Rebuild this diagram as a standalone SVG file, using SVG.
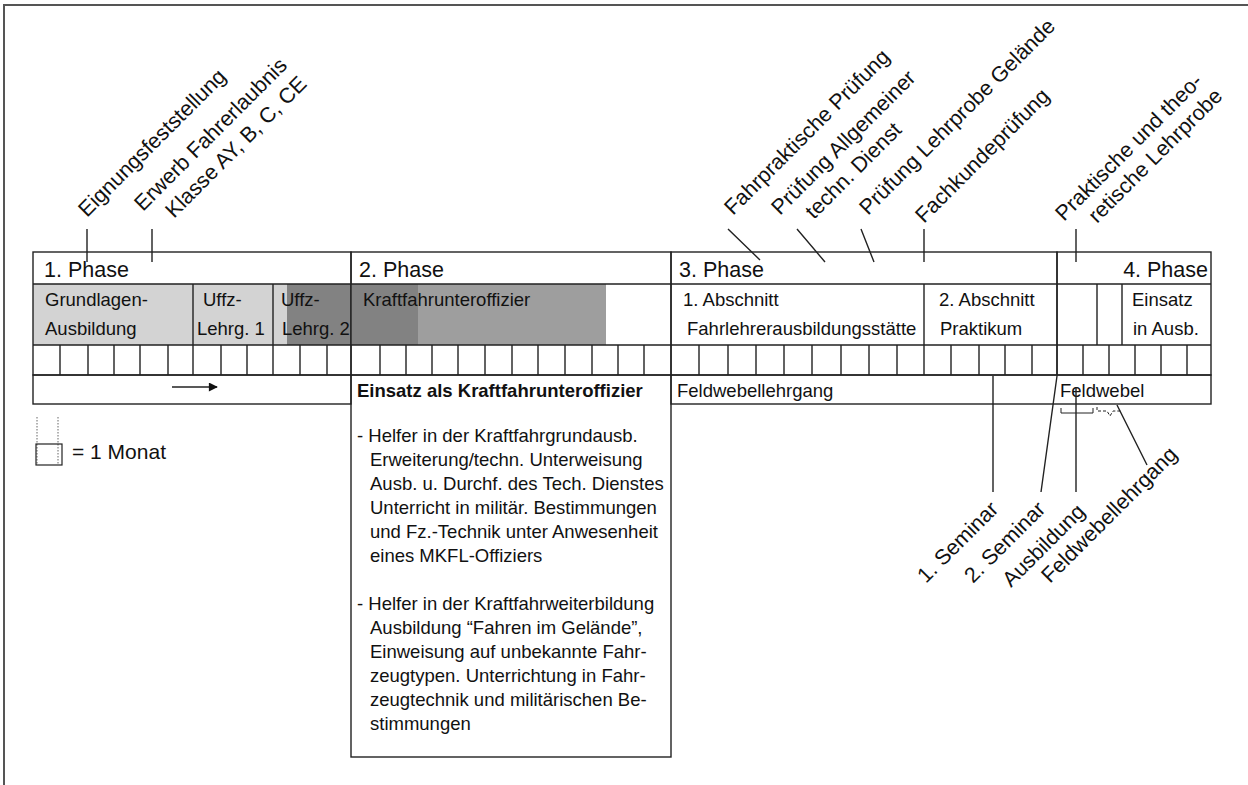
<svg xmlns="http://www.w3.org/2000/svg" width="1248" height="785" viewBox="0 0 1248 785">
<style>
.ln{fill:none;stroke:#222;stroke-width:1.4}
.fr{fill:none;stroke:#555;stroke-width:2}
.dot{fill:none;stroke:#666;stroke-width:1;stroke-dasharray:1.5,1.5}
.t{font-family:"Liberation Sans",Arial,Helvetica,sans-serif;font-size:18.5px;fill:#111}
.ph{font-size:21.5px}
.rl{font-size:21.5px}
.b{font-weight:bold}
.light{fill:#d3d3d3}
.dark{fill:#828282}
.mid{fill:#9e9e9e}
</style>
<defs>
<marker id="ah" viewBox="0 0 10 10" refX="9" refY="5" markerWidth="14" markerHeight="9" markerUnits="userSpaceOnUse" orient="auto"><path d="M0,0 L10,5 L0,10 z" fill="#111"/></marker>
</defs>
<rect width="1248" height="785" fill="#fff"/>
<g id="frame"><path class="fr" d="M4,785 V5 H1248"/></g>

<g id="phase1">
<rect class="light" x="33" y="284" width="254" height="61"/>
<rect class="dark" x="287" y="284" width="64" height="61"/>
<rect class="ln" x="33" y="252" width="318" height="123"/>
<path class="ln" d="M33,284H351 M33,345H351 M193,284V345 M273,284V345 M60,345V375 M88,345V375 M114,345V375 M140,345V375 M168,345V375 M193,345V375 M221,345V375 M247,345V375 M273,345V375 M300,345V375 M327,345V375"/>
<text class="t ph" x="44" y="277">1. Phase</text>
<text class="t" x="45" y="306">Grundlagen-</text>
<text class="t" x="45" y="335">Ausbildung</text>
<text class="t" x="203" y="306">Uffz-</text>
<text class="t" x="197" y="335">Lehrg. 1</text>
<text class="t" x="281" y="306">Uffz-</text>
<text class="t" x="282" y="335">Lehrg. 2</text>
</g>

<g id="phase1-row4">
<rect class="ln" x="33" y="375" width="318" height="29"/>
<path class="ln" d="M172,387H217" marker-end="url(#ah)"/>
</g>

<g id="phase2">
<rect class="dark" x="351" y="284" width="67" height="61"/>
<rect class="mid" x="418" y="284" width="188" height="61"/>
<rect class="ln" x="351" y="252" width="320" height="123"/>
<path class="ln" d="M351,284H671 M351,345H671 M380,345V375 M406,345V375 M432,345V375 M458,345V375 M485,345V375 M512,345V375 M538,345V375 M565,345V375 M592,345V375 M618,345V375 M644,345V375"/>
<text class="t ph" x="359" y="277">2. Phase</text>
<text class="t" x="363" y="306">Kraftfahrunteroffizier</text>
</g>

<g id="einsatz">
<rect class="ln" x="351" y="375" width="320" height="382"/>
<text class="t b" x="357" y="397">Einsatz als Kraftfahrunteroffizier</text>
<text class="t" x="357" y="442">- Helfer in der Kraftfahrgrundausb.</text>
<text class="t" x="370" y="466">Erweiterung/techn. Unterweisung</text>
<text class="t" x="370" y="490">Ausb. u. Durchf. des Tech. Dienstes</text>
<text class="t" x="370" y="514">Unterricht in militär. Bestimmungen</text>
<text class="t" x="370" y="538">und Fz.-Technik unter Anwesenheit</text>
<text class="t" x="370" y="562">eines MKFL-Offiziers</text>
<text class="t" x="357" y="610">- Helfer in der Kraftfahrweiterbildung</text>
<text class="t" x="370" y="634">Ausbildung “Fahren im Gelände”,</text>
<text class="t" x="370" y="658">Einweisung auf unbekannte Fahr-</text>
<text class="t" x="370" y="682">zeugtypen. Unterrichtung in Fahr-</text>
<text class="t" x="370" y="706">zeugtechnik und militärischen Be-</text>
<text class="t" x="370" y="730">stimmungen</text>
</g>

<g id="phase3">
<rect class="ln" x="671" y="252" width="386" height="123"/>
<path class="ln" d="M671,284H1057 M671,345H1057 M924,284V345 M699,345V375 M728,345V375 M756,345V375 M784,345V375 M812,345V375 M841,345V375 M869,345V375 M897,345V375 M924,345V375 M951,345V375 M979,345V375 M1005,345V375 M1032,345V375"/>
<text class="t ph" x="679" y="277">3. Phase</text>
<text class="t" x="683" y="306">1. Abschnitt</text>
<text class="t" x="687" y="335">Fahrlehrerausbildungsstätte</text>
<text class="t" x="939" y="306">2. Abschnitt</text>
<text class="t" x="940" y="335">Praktikum</text>
</g>

<g id="phase4">
<rect class="ln" x="1057" y="252" width="154" height="123"/>
<path class="ln" d="M1057,284H1211 M1057,345H1211 M1097,284V345 M1122,284V345 M1083,345V375 M1109,345V375 M1135,345V375 M1161,345V375 M1187,345V375"/>
<text class="t ph" x="1208" y="277" text-anchor="end">4. Phase</text>
<text class="t" x="1132" y="306">Einsatz</text>
<text class="t" x="1133" y="335">in Ausb.</text>
</g>

<g id="feldwebel-row">
<rect class="ln" x="671" y="375" width="540" height="29"/>
<text class="t" x="677" y="397">Feldwebellehrgang</text>
<text class="t" x="1060" y="397">Feldwebel</text>
<path class="ln" d="M1061,408V413H1093V408" style="stroke-width:1"/>
<path class="ln" d="M1097,407V411H1107L1110,416L1113,411H1122" style="stroke-width:1;stroke-dasharray:3,2"/>
</g>

<g id="legend">
<path class="dot" d="M37,417V465 M58,417V465"/>
<rect class="ln" x="36" y="444" width="26" height="21" style="stroke-width:1.2"/>
<text class="t" x="72" y="459" style="font-size:21px">= 1 Monat</text>
</g>

<g id="top-labels">
<text class="t rl" transform="translate(87,218) rotate(-45)">Eignungsfeststellung</text>
<text class="t rl" transform="translate(143,212) rotate(-45)">Erwerb Fahrerlaubnis</text>
<text class="t rl" transform="translate(174,219) rotate(-45)">Klasse AY, B, C, CE</text>
<text class="t rl" transform="translate(733,216) rotate(-45)">Fahrpraktische Prüfung</text>
<text class="t rl" transform="translate(780,216) rotate(-45)">Prüfung Allgemeiner</text>
<text class="t rl" transform="translate(814,220) rotate(-45)">techn. Dienst</text>
<text class="t rl" transform="translate(868,216) rotate(-45)">Prüfung Lehrprobe Gelände</text>
<text class="t rl" transform="translate(924,224) rotate(-45)">Fachkundeprüfung</text>
<text class="t rl" transform="translate(1064,222) rotate(-45)">Praktische und theo-</text>
<text class="t rl" transform="translate(1097,224) rotate(-45)">retische Lehrprobe</text>
</g>

<g id="bottom-labels">
<text class="t rl" transform="translate(926,584) rotate(-45)">1. Seminar</text>
<text class="t rl" transform="translate(973,584) rotate(-45)">2. Seminar</text>
<text class="t rl" transform="translate(1011,588) rotate(-45)">Ausbildung</text>
<text class="t rl" transform="translate(1050,584) rotate(-45)">Feldwebellehrgang</text>
</g>

<g id="connectors">
<path class="ln" d="M87,229V262 M152,229V262 M728,229L760,260 M797,229L825,262 M861,229L874,262 M924,229V262 M1076,229V262"/>
<path class="ln" d="M993,376V492 M1057,376L1041,492 M1076,387V492 M1117,405L1147,465"/>
</g>
</svg>
